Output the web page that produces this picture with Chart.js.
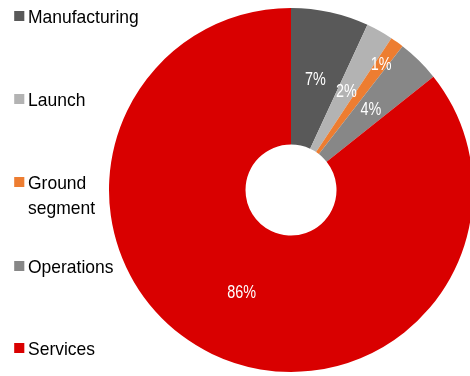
<!DOCTYPE html>
<html>
<head>
<meta charset="utf-8">
<script src="https://cdn.jsdelivr.net/npm/chart.js@4/dist/chart.umd.min.js"></script>
<style>
  html, body { margin: 0; padding: 0; background: #fff; overflow: hidden; }
  #wrap { position: relative; width: 470px; height: 376px; overflow: hidden; }
  #myChart { position: absolute; left: 0; top: 0; }
  .leg { position: absolute; left: 28px; font-family: "Liberation Sans", Arial, sans-serif; font-size: 19px; line-height: 25px; color: #000; white-space: nowrap; transform: scaleX(0.92); transform-origin: 0 0; }
  .leg i { position: absolute; left: -15px; top: 7px; width: 11px; height: 10px; }
</style>
</head>
<body>
<div id="wrap">
  <canvas id="myChart" width="480" height="376"></canvas>
</div>
<script>
const segments = ["Manufacturing", "Launch", "Ground\nsegment", "Operations", "Services"];
const shares = [6.9, 2.4, 1.2, 3.8, 85.7];
const colors = ["#595959", "#b3b3b3", "#ed7d31", "#878787", "#d90000"];
const legendTops = [4, 87, 170, 254, 336];

const wrap = document.getElementById("wrap");

for (let i = 0; i < segments.length; i++) {
  const div = document.createElement("div");
  div.className = "leg";
  div.style.top = legendTops[i] + "px";
  const box = document.createElement("i");
  box.style.background = colors[i];
  div.appendChild(box);
  const lines = segments[i].split("\n");
  for (let j = 0; j < lines.length; j++) {
    const line = document.createElement("div");
    line.innerText = lines[j];
    div.appendChild(line);
  }
  wrap.appendChild(div);
}

// percent labels inside the slices, drawn a bit condensed like the original
const sliceLabels = {
  id: "sliceLabels",
  afterDatasetsDraw(chart) {
    const ctx = chart.ctx;
    const arcs = chart.getDatasetMeta(0).data;
    ctx.save();
    ctx.fillStyle = "#fff";
    ctx.font = '18px "Liberation Sans", Arial, sans-serif';
    ctx.textAlign = "center";
    ctx.textBaseline = "middle";
    arcs.forEach((arc, i) => {
      const p = arc.getProps(["x", "y", "startAngle", "endAngle", "innerRadius", "outerRadius"], true);
      const mid = (p.startAngle + p.endAngle) / 2;
      let r = (p.innerRadius + p.outerRadius) / 2;
      if (shares[i] < 1.5) r = p.innerRadius + 0.8 * (p.outerRadius - p.innerRadius);
      const x = p.x + Math.cos(mid) * r;
      const y = p.y + Math.sin(mid) * r;
      ctx.save();
      ctx.translate(x, y + 1);
      ctx.scale(0.8, 1);
      ctx.fillText(Math.round(shares[i]) + "%", 0, 0);
      ctx.restore();
    });
    ctx.restore();
  },
};

const chart = new Chart(document.getElementById("myChart"), {
  type: "doughnut",
  data: {
    labels: segments,
    datasets: [
      {
        data: shares,
        backgroundColor: colors,
        borderWidth: 0,
      },
    ],
  },
  options: {
    responsive: false,
    animation: false,
    cutout: "25%",
    layout: { padding: { left: 109, right: 7, top: 8, bottom: 4 } },
    plugins: {
      legend: { display: false },
      tooltip: { enabled: false },
    },
  },
  plugins: [sliceLabels],
});
</script>
</body>
</html>
